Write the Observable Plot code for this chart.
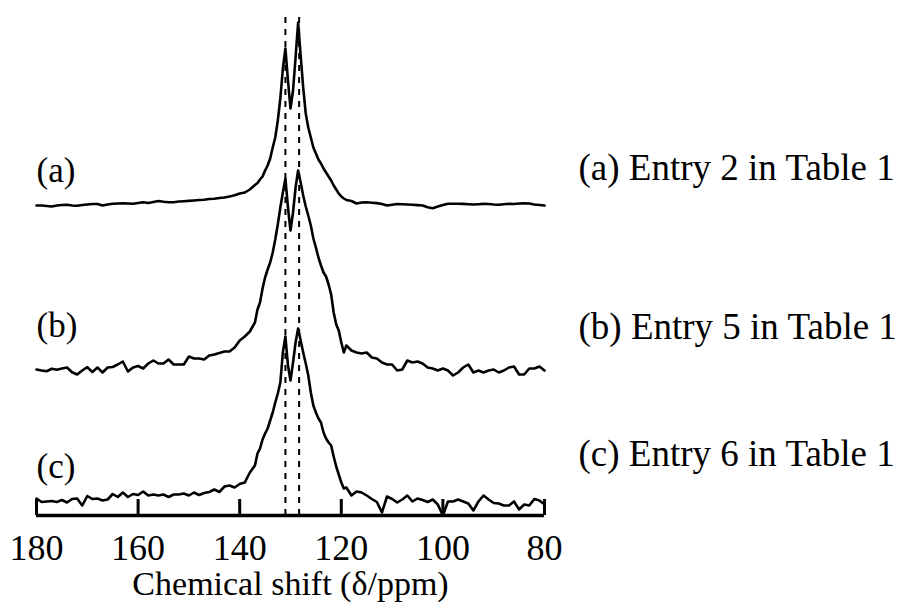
<!DOCTYPE html>
<html>
<head>
<meta charset="utf-8">
<script src="https://cdn.jsdelivr.net/npm/d3@7"></script>
<script src="https://cdn.jsdelivr.net/npm/@observablehq/plot@0.6"></script>
<style>
  html, body { margin: 0; padding: 0; background: #fff; }
  #chart svg { display: block; }
</style>
</head>
<body>
<div id="chart"></div>
<script>
// Chemical shift grid (ppm), coarse outside the peak region, finer inside
const ppm = [
  180,179,178,177,176,175,174,173,172,171,170,169,168,167,166,165,164,163,162,161,
  160,159,158,157,156,155,154,153,152,151,150,149,148,147,146,145,144,143,142,141,
  140,139,138,137,
  136.5,136,135.5,135,134.5,134,133.5,133,132.5,132,131.5,131,130.5,130,129.5,129,
  128.5,128,127.5,127,126.5,126,125.5,125,124.5,124,123.5,123,122.5,122,121.5,121,
  120.5,120,119.5,119,
  118,117,116,115,114,113,112,111,110,109,108,107,106,105,104,103,102,101,100,99,
  98,97,96,95,94,93,92,91,90,89,88,87,86,85,84,83,82,81,80
];

// Spectrum intensities (arbitrary units)
const specA = [
  0,0,-0.5,-1,0,0.5,0.7,0,-0.3,0.5,1,1.5,1.5,0,1,1.7,2,2.3,2,1.7,
  2.5,3.3,2.5,3.5,4.5,3.8,3.3,3.3,4,4.3,4.6,5,5.5,5.8,6.5,6.8,7.5,8,9,10.3,
  12,13,16,20.5,
  22.5,26,29,35,40,47,58,68,85,107,137,157,125,97,115,148,
  183,150,118,92,78,68,58,52,46,42,37,33,29,25,20,16,
  12,9,7,5.5,
  4.5,2,3,3.3,2.8,2.4,1.5,0,0.8,1.5,1.3,1,0.7,0.4,0,-1.7,-2.8,-1,0.5,1.7,
  1.7,1.7,1.6,1.3,1,1.3,1.6,1.5,1,0.8,1.2,1.7,1.5,2,2.3,2,1,0.5,0
];
const specB = [
  3,2,1.3,3.7,2.7,4,5,0.3,-2,2,5.3,0.5,5,0,5,5.5,8,11,1,5,
  6.5,4,9,12,9,9,13,8,8,8,16,14,14,13,17,18,19.5,21,21,25,
  32,36,41,50,
  63,70,84,95,103,110,120,133,148,165,180,194,165,142,160,185,
  202,190,177,166,157,147,134,125,115,107,100,96,88,78,60,48,
  42,30,20,27,
  22,20,19,20,15,14,10,8,8,2,3,12,10,11,9,5,4,2,4,2,
  -3,0,5,8,0,2,0,2,3,0,2,5,6,-2,-2,4,4,6,2
];
const specC = [
  2,-1.5,-1,-0.5,-1.5,0.5,-2,1.5,2,-5,4.5,1.5,2,0,1,6.5,3.5,8,3.5,6.5,
  5.5,9,5,6,5,6,3.5,6,6,7,5,8,5.5,7.5,8.5,11,8.5,14,15,13,
  16.5,18,28,35,
  47,52,61,67,72,80,88,98,107,118,148,164,135,120,138,158,
  172,160,148,137,125,108,95,88,82,78,68,62,58,55,44,34,
  26,18,12,13,
  5,9,8,5,1.5,-1.5,-12,4,1.5,-2,1,5,-1,2,0.5,-1.5,1,-4,-15,-1,
  -1,1,-1,-3,-10,-1,5,1,-2.5,-3,-5,-5,-1,-9,-4,-5,1.5,0,-4
];

// Vertical stacking offsets of the three traces
const seriesNames = ["a", "b", "c"];
const seriesValues = [specA, specB, specC];
const seriesOffsets = [310, 143, 15];

// Reference lines (ppm)
const refLines = [131.0, 128.3];

// Axis ticks
const xTicks = [180, 160, 140, 120, 100, 80];

// Labels
const leftLabels = ["(a)", "(b)", "(c)"];
const leftLabelY = [345, 190, 49];
const rightLabels = ["(a) Entry 2 in Table 1", "(b) Entry 5 in Table 1", "(c) Entry 6 in Table 1"];
const rightLabelY = [347, 188, 61];
const xLabel = "Chemical shift (δ/ppm)";

const rows = [];
seriesNames.forEach((s, k) => {
  ppm.forEach((p, i) => rows.push({ s, ppm: p, v: seriesOffsets[k] + seriesValues[k][i] }));
});

const font = "'Liberation Serif', 'Times New Roman', serif";

const chart = Plot.plot({
  width: 900,
  height: 616,
  marginLeft: 36,
  marginRight: 356,
  marginTop: 15,
  marginBottom: 101,
  style: { fontFamily: font, fontSize: "34px", color: "black", background: "white" },
  x: { domain: [180, 80] },
  y: { domain: [0, 500], axis: null },
  marks: [
    Plot.ruleX(refLines, { x: d => d, y1: 0, y2: 498, stroke: "black", strokeWidth: 2, strokeDasharray: "6,6" }),
    Plot.line(rows, { x: "ppm", y: "v", z: "s", stroke: "black", strokeWidth: 2.6 }),
    Plot.ruleY([0], { stroke: "black", strokeWidth: 3.5 }),
    Plot.ruleX(xTicks, { x: d => d, y1: 0, y2: 16, stroke: "black", strokeWidth: 3 }),
    Plot.axisX({ ticks: xTicks, tickSize: 0, tickPadding: 19, label: null, fontSize: 36, tickFormat: d => String(d) }),
    Plot.text(leftLabels, { x: 180, y: (d, i) => leftLabelY[i], text: d => d, textAnchor: "start", fontSize: 35, fill: "black" }),
    Plot.text(rightLabels, { x: 80, y: (d, i) => rightLabelY[i], text: d => d, textAnchor: "start", dx: 34, fontSize: 37, fill: "black" }),
    Plot.text([xLabel], { frameAnchor: "bottom", lineAnchor: "middle", text: d => d, dy: 69, fontSize: 34, fill: "black" })
  ]
});
document.getElementById("chart").appendChild(chart);
</script>
</body>
</html>
